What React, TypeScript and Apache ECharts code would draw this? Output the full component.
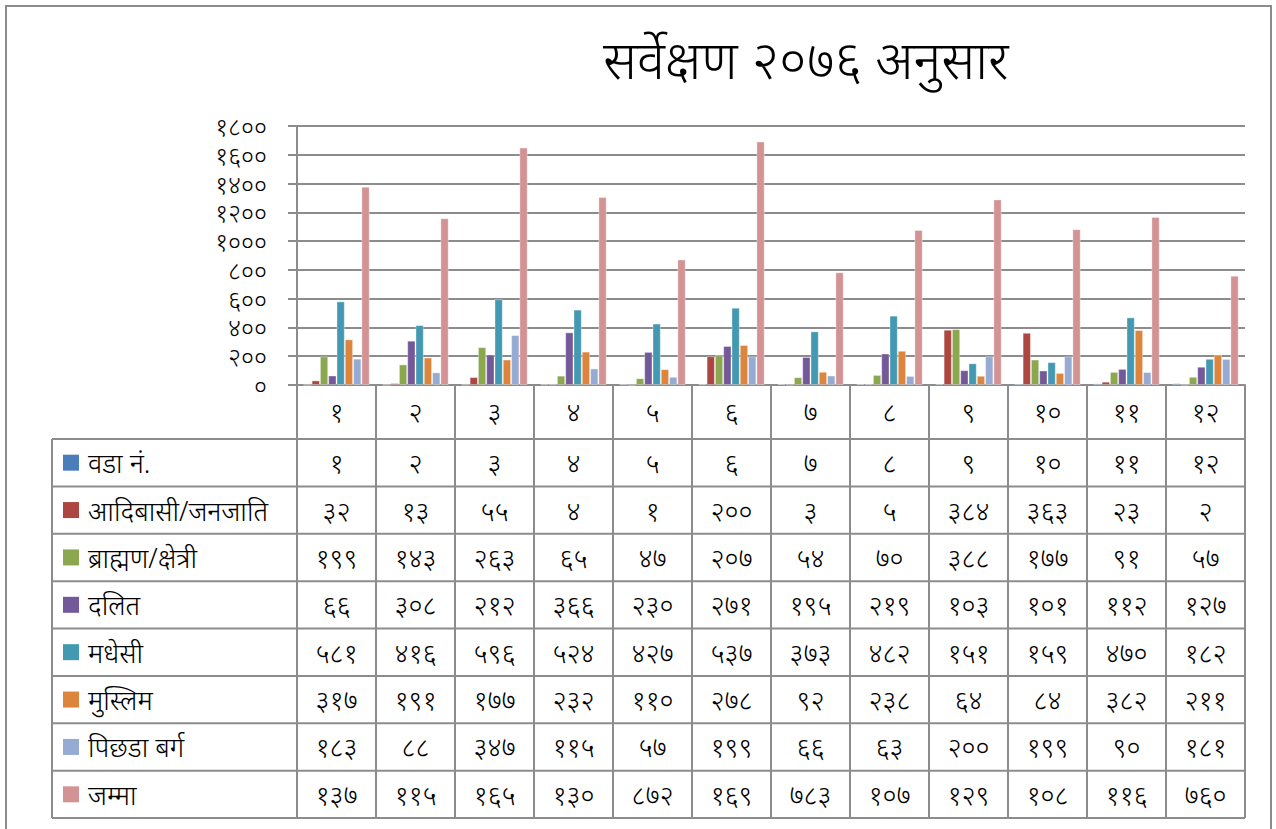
import React, { useEffect, useRef } from "react";
import * as echarts from "echarts";

// ---------- data ----------
const wards = [1, 2, 3, 4, 5, 6, 7, 8, 9, 10, 11, 12];
const seriesNames = [
  "वडा नं.",
  "आदिबासी/जनजाति",
  "ब्राह्मण/क्षेत्री",
  "दलित",
  "मधेसी",
  "मुस्लिम",
  "पिछडा बर्ग",
  "जम्मा",
];
const wardNo = [1, 2, 3, 4, 5, 6, 7, 8, 9, 10, 11, 12];
const adibasi = [32, 13, 55, 4, 1, 200, 3, 5, 384, 363, 23, 2];
const brahmin = [199, 143, 263, 65, 47, 207, 54, 70, 388, 177, 91, 57];
const dalit = [66, 308, 212, 366, 230, 271, 195, 219, 103, 101, 112, 127];
const madhesi = [581, 416, 596, 524, 427, 537, 373, 482, 151, 159, 470, 182];
const muslim = [317, 191, 177, 232, 110, 278, 92, 238, 64, 84, 382, 211];
const pichhada = [183, 88, 347, 115, 57, 199, 66, 63, 200, 199, 90, 181];
const jamma = [1378, 1159, 1650, 1306, 872, 1692, 783, 1077, 1290, 1083, 1168, 760];
// the table's total cells are too narrow and show only the first 3 digits
const jammaShownDigits = 3;
const yTicks = [0, 200, 400, 600, 800, 1000, 1200, 1400, 1600, 1800];
const title = "सर्वेक्षण २०७६ अनुसार";

const seriesData = [wardNo, adibasi, brahmin, dalit, madhesi, muslim, pichhada, jamma];
const colors = ["#4A7EBB", "#AD4541", "#8BA84E", "#74599A", "#4399B1", "#DD853D", "#96ABD3", "#D39293"];

// ---------- layout ----------
const W = 1276;
const H = 829;
const GRID_LEFT = 297;
const GRID_RIGHT = 1245;
const GRID_TOP = 126;
const AXIS_Y = 385;
const TABLE_LEFT = 52;
const HEADER_BOTTOM = 439;
const TABLE_BOTTOM = 818;
const GRAY = "#8C8C8C";
const FONT = "'Noto Sans', 'DejaVu Sans', sans-serif";
const WEIGHT = 300;

const DEV = "०१२३४५६७८९";
const toDev = (s: string | number) => String(s).replace(/[0-9]/g, (d) => DEV[+d]);

export default function App() {
  const ref = useRef<HTMLDivElement>(null);

  useEffect(() => {
    document.body.style.margin = "0";
    const chart = echarts.init(ref.current!, null, { renderer: "svg" });
    const rowH = (TABLE_BOTTOM - HEADER_BOTTOM) / seriesNames.length;
    const colW = (GRID_RIGHT - GRID_LEFT) / wards.length;

    const graphic: any[] = [];
    // outer frame
    graphic.push({
      type: "rect",
      shape: { x: 6, y: 6, width: 1265, height: 840 },
      style: { fill: "none", stroke: GRAY, lineWidth: 2 },
      silent: true,
    });
    // title
    graphic.push({
      type: "text",
      x: 603,
      y: 58,
      style: {
        text: title,
        font: `${WEIGHT} 53px ${FONT}`,
        fill: "#000",
        textVerticalAlign: "middle",
      },
    });
    // table horizontal lines
    for (let r = 0; r <= seriesNames.length; r++) {
      const y = HEADER_BOTTOM + r * rowH;
      graphic.push({
        type: "line",
        shape: { x1: TABLE_LEFT, y1: y, x2: GRID_RIGHT, y2: y },
        style: { stroke: GRAY, lineWidth: 2 },
        silent: true,
      });
    }
    graphic.push({
      type: "line",
      shape: { x1: TABLE_LEFT, y1: HEADER_BOTTOM, x2: TABLE_LEFT, y2: TABLE_BOTTOM },
      style: { stroke: GRAY, lineWidth: 2 },
      silent: true,
    });
    // table rows
    seriesNames.forEach((name, r) => {
      const cy = HEADER_BOTTOM + (r + 0.5) * rowH;
      graphic.push({
        type: "rect",
        shape: { x: 63, y: cy - 8, width: 16, height: 16 },
        style: { fill: colors[r] },
      });
      graphic.push({
        type: "text",
        x: 88,
        y: cy,
        style: {
          text: name,
          font: `${WEIGHT} 27px ${FONT}`,
          fill: "#000",
          textVerticalAlign: "middle",
        },
      });
      seriesData[r].forEach((v, c) => {
        const s = r === seriesNames.length - 1 ? String(v).slice(0, jammaShownDigits) : String(v);
        graphic.push({
          type: "text",
          x: GRID_LEFT + (c + 0.5) * colW,
          y: cy,
          style: {
            text: toDev(s),
            font: `${WEIGHT} 27px ${FONT}`,
            fill: "#000",
            textAlign: "center",
            textVerticalAlign: "middle",
          },
        });
      });
    });

    chart.setOption({
      animation: false,
      backgroundColor: "#fff",
      color: colors,
      grid: {
        left: GRID_LEFT,
        right: W - GRID_RIGHT,
        top: GRID_TOP,
        bottom: H - AXIS_Y,
        containLabel: false,
      },
      xAxis: {
        type: "category",
        data: wards.map((w) => toDev(w)),
        boundaryGap: true,
        axisLine: { show: true, lineStyle: { color: GRAY, width: 2 } },
        axisTick: {
          show: true,
          interval: 0,
          length: TABLE_BOTTOM - AXIS_Y,
          lineStyle: { color: GRAY, width: 2 },
        },
        axisLabel: {
          interval: 0,
          margin: 26,
          verticalAlign: "middle",
          fontSize: 27,
          fontWeight: WEIGHT,
          color: "#000",
          fontFamily: FONT,
        },
      },
      yAxis: {
        type: "value",
        min: yTicks[0],
        max: yTicks[yTicks.length - 1],
        interval: yTicks[1] - yTicks[0],
        axisLine: { show: true, lineStyle: { color: GRAY, width: 2 } },
        axisTick: { show: true, length: 9, lineStyle: { color: GRAY, width: 2 } },
        splitLine: { show: true, lineStyle: { color: GRAY, width: 2 } },
        axisLabel: {
          margin: 30,
          fontSize: 25,
          lineHeight: 22,
          fontWeight: WEIGHT,
          showMinLabel: true,
          showMaxLabel: true,
          hideOverlap: false,
          color: "#000",
          fontFamily: FONT,
          formatter: (v: number) => toDev(v),
        },
      },
      series: seriesNames.map((name, i) => ({
        name,
        type: "bar",
        data: seriesData[i],
        barGap: "0%",
        barCategoryGap: "16%",
        itemStyle: { color: colors[i], borderColor: "rgba(255,255,255,0.35)", borderWidth: 1 },
      })),
      graphic,
    });
    return () => chart.dispose();
  }, []);

  return (
    <div
      ref={ref}
      style={{ position: "absolute", left: 0, top: 0, width: W, height: H }}
    />
  );
}
